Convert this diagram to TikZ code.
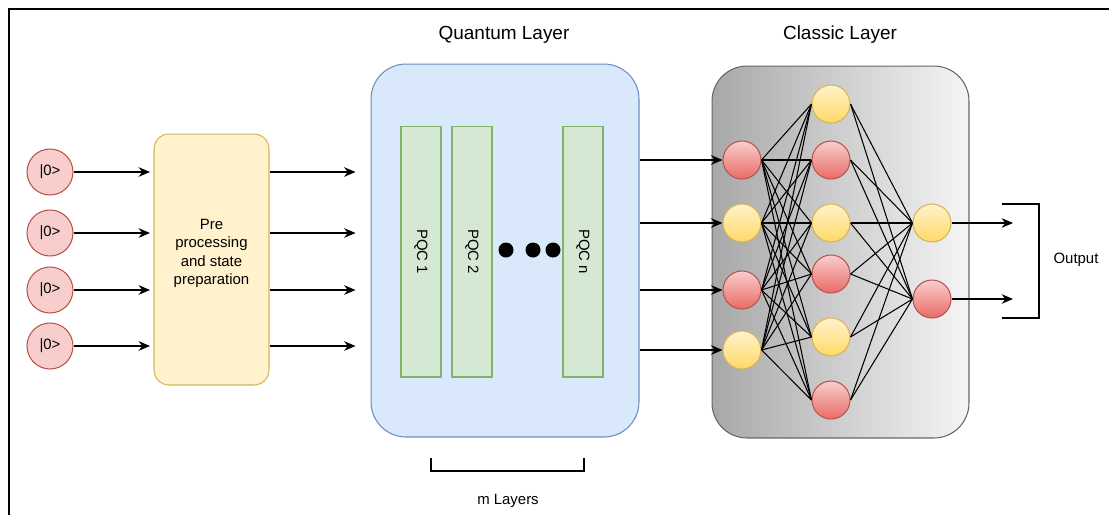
\documentclass[tikz,border=0pt]{standalone}
\usepackage{fontspec}
\setmainfont{Liberation Sans}
\usetikzlibrary{arrows.meta}
\definecolor{qred}{HTML}{F8CECC}
\definecolor{qreddark}{HTML}{EA6B66}
\definecolor{qredline}{HTML}{B85450}
\definecolor{qyellow}{HTML}{FFF2CC}
\definecolor{qyellowdark}{HTML}{FFD966}
\definecolor{qyellowline}{HTML}{D6B656}
\definecolor{qblue}{HTML}{DAE8FC}
\definecolor{qblueline}{HTML}{6C8EBF}
\definecolor{qgreen}{HTML}{D5E8D4}
\definecolor{qgreenline}{HTML}{82B366}
\definecolor{qgreyline}{HTML}{666666}
\definecolor{qgreydark}{HTML}{A8A8A8}
\definecolor{qgreylight}{HTML}{F5F5F5}
\begin{document}
\begin{tikzpicture}[x=0.02cm, y=-0.02cm, line width=0.6pt,
    txt/.style={font=\fontsize{8.5pt}{10.5pt}\selectfont},
    title/.style={font=\fontsize{10.8pt}{13pt}\selectfont},
    arr/.style={-{Stealth[length=6.5pt,width=5.5pt]}},
    qubit/.style={circle, draw=qredline, fill=qred, minimum size=0.92cm, inner sep=0pt, txt},
    redn/.style={circle, draw=qredline, top color=qred, bottom color=qreddark, minimum size=0.76cm, inner sep=0pt},
    yeln/.style={circle, draw=qyellowline, top color=qyellow, bottom color=qyellowdark, minimum size=0.76cm, inner sep=0pt},
    pqc/.style={draw=qgreenline, fill=qgreen, rotate=-90, minimum width=5.02cm, minimum height=0.8cm, inner sep=0pt, txt}]
  \useasboundingbox (0,0) rectangle (1109,515);
  \draw[line width=0.8pt] (9,515) -- (9,9) -- (1109,9);
  \foreach \y [count=\i] in {172,233,290,346}
      \node[qubit] (in\i) at (50,\y) {|0>};
  \node[draw=qyellowline, fill=qyellow, rounded corners=0.3cm, minimum width=2.3cm, minimum height=5.02cm,
        align=center, text depth=0.3cm, txt] (pre) at (211.5,259.5) {Pre\\processing\\and state\\preparation};
  \node[draw=qblueline, fill=qblue, rounded corners=0.7cm, minimum width=5.36cm, minimum height=7.46cm] (qbox) at (505,250.5) {};
  \node[title] (qtitle) at (504,35) {Quantum Layer};
  \foreach \x/\t [count=\i] in {421/PQC 1,472/PQC 2,583/PQC n}
      \node[pqc] (pqc\i) at (\x,251.5) {\t};
  \foreach \x in {506,533,553}
      \fill (\x,250) circle (0.15cm);
  \node[draw=qgreyline, left color=qgreydark, right color=qgreylight, rounded corners=0.7cm,
        minimum width=5.14cm, minimum height=7.44cm] (cbox) at (840.5,252) {};
  \node[title] (ctitle) at (840,35) {Classic Layer};
  \foreach \y/\s [count=\i] in {160/redn,223/yeln,290/redn,350/yeln}
      \node[\s] (a\i) at (742,\y) {};
  \foreach \y/\s [count=\i] in {104/yeln,160/redn,223/yeln,274/redn,337/yeln,400/redn}
      \node[\s] (b\i) at (831,\y) {};
  \foreach \y/\s [count=\i] in {223/yeln,299/redn}
      \node[\s] (c\i) at (932,\y) {};
  \foreach \i in {1,...,4}
      \foreach \j in {1,...,6}
          \draw (a\i.east) -- (b\j.west);
  \foreach \j in {1,...,6}
      \foreach \k in {1,2}
          \draw (b\j.east) -- (c\k.west);
  \foreach \i in {1,...,4} {
      \draw[arr, shorten >=2pt] (in\i) -- (in\i -| pre.west);
      \draw[arr, shorten >=0.3cm] (in\i -| pre.east) -- (in\i -| qbox.west);
      \draw[arr] (a\i -| qbox.east) -- (a\i);
  }
  \coordinate (out1) at (1013,223);
  \coordinate (out2) at (1013,299);
  \draw[arr] (c1) -- (out1);
  \draw[arr] (c2) -- (out2);
  \draw (1002,204) -| (1039,318) -- (1002,318);
  \node[txt] (outlabel) at (1076,260) {Output};
  \draw (431,458) |- (584,471) -- (584,458);
  \node[txt] (mlabel) at (508,501) {m Layers};
\end{tikzpicture}
\end{document}
